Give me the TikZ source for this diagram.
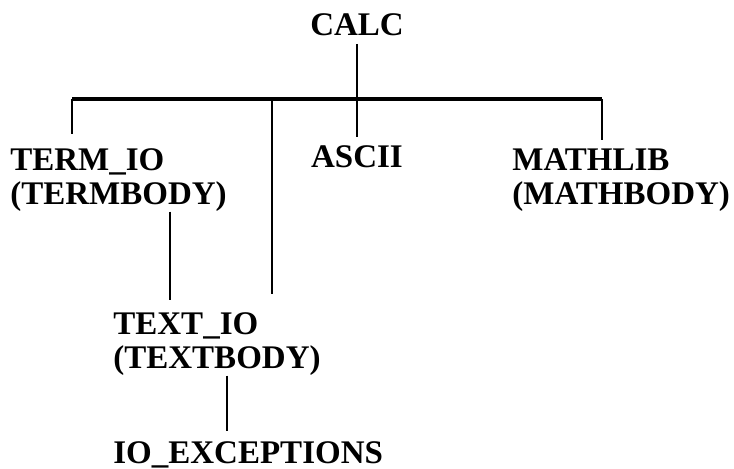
\documentclass[tikz,border=0pt]{standalone}
\usepackage{fontspec}
\setmainfont{Liberation Serif}
\tikzset{
  unit/.style={inner sep=0pt, align=left, font=\bfseries\fontsize{16.5}{17}\selectfont},
  conn/.style={line width=1.4pt},
  bus/.style={line width=2pt}
}
\begin{document}
\begin{tikzpicture}[x=0.5pt, y=-0.5pt]
\useasboundingbox (0,0) rectangle (734,468);
\node [unit, anchor=north] at (357,13) (calc) {CALC};
\node [unit, anchor=north] at (357,145) (ascii) {ASCII};
\node [unit, anchor=north west] at (10,148) (termio) {TERM\_IO\\(TERMBODY)};
\node [unit, anchor=north west] at (512,148) (mathlib) {MATHLIB\\(MATHBODY)};
\node [unit, anchor=north west] at (113,312) (textio) {TEXT\_IO\\(TEXTBODY)};
\node [unit, anchor=north west] at (113,441) (ioexc) {IO\_EXCEPTIONS};
\coordinate (busL) at (72,99);
\coordinate (busM) at (272,99);
\coordinate (busR) at (602,99);
\draw[bus] (busL) -- (busR);
\draw[conn, shorten <=4pt, shorten >=4pt] (calc) -- (ascii);
\draw[conn, shorten >=7pt] (busL) -- (busL |- termio.north);
\draw[conn, shorten >=4pt] (busR) -- (busR |- mathlib.north);
\draw[conn, shorten >=9pt] (busM) -- (busM |- textio.north);
\draw[conn, shorten >=6pt] (termio.south -| 170,0) -- (textio.north -| 170,0);
\draw[conn, shorten >=5pt] (textio.south -| 227,0) -- (ioexc.north -| 227,0);
\end{tikzpicture}
\end{document}
